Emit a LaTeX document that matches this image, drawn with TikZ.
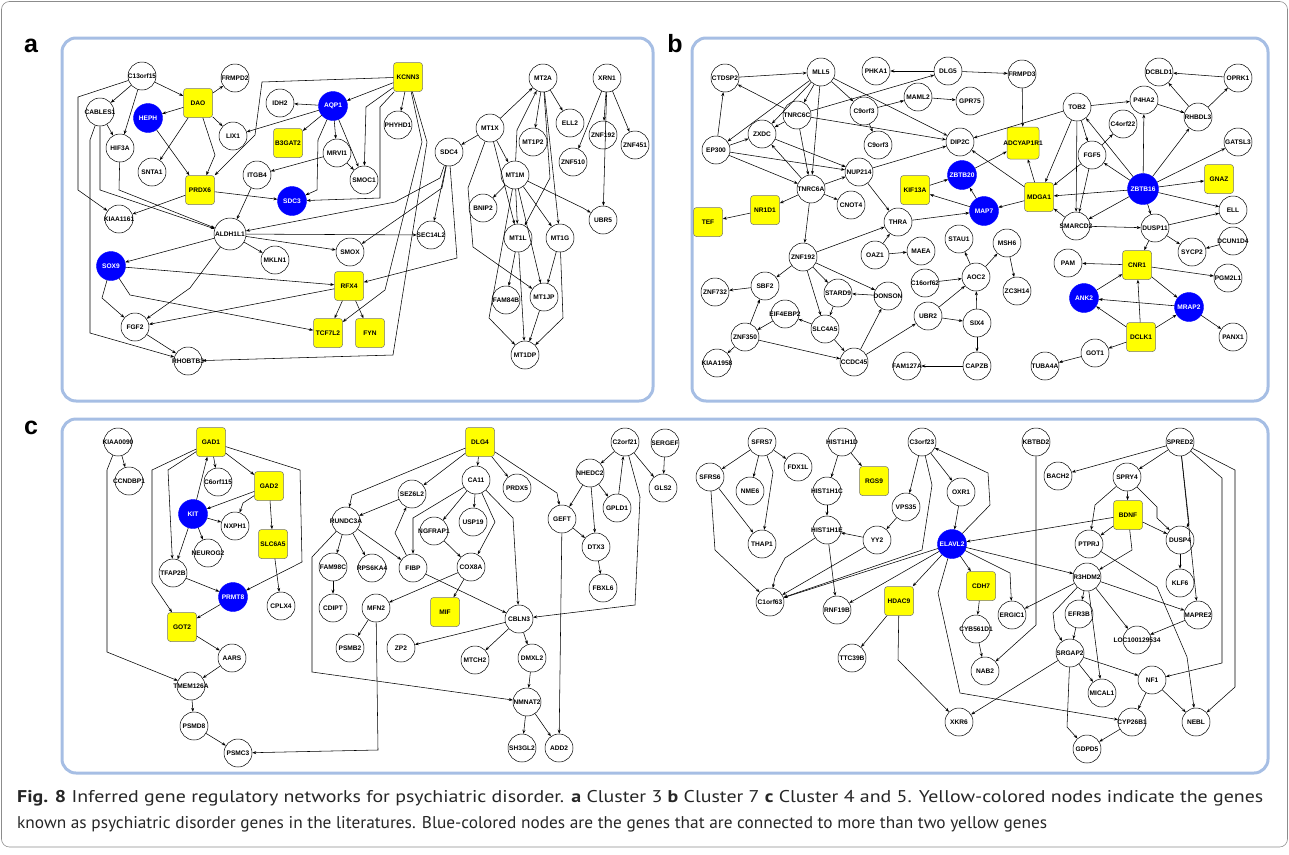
\documentclass[tikz,border=0pt]{standalone}
\usepackage{fontspec}
\setmainfont{Liberation Sans}
\newfontfamily\capfont{PT Sans}
\usepackage{graphicx}
\usetikzlibrary{arrows.meta}
\definecolor{panelblue}{RGB}{166,190,228}
\definecolor{genegold}{RGB}{255,255,0}
\definecolor{geneblue}{RGB}{0,0,255}
\newcommand{\gn}[1]{\makebox[0pt]{#1}}

\begin{document}
\begin{tikzpicture}[
      x=1pt, y=-1pt,
      >={Stealth[length=4pt,width=3pt]},
      every node/.style={inner sep=0pt,font=\fontsize{6.6}{7}\selectfont\bfseries},
      gene/.style={circle,draw,line width=0.5pt,fill=white,minimum size=28pt},
      ygene/.style={rectangle,rounded corners=3pt,draw=black!55,line width=0.5pt,fill=genegold,minimum size=29pt},
      bgene/.style={circle,draw=geneblue,fill=geneblue,text=white,minimum size=29pt},
      panel/.style={draw=panelblue,line width=3pt,rounded corners=14pt},
      tag/.style={font=\fontsize{25}{25}\selectfont\bfseries},
      link/.style={->,line width=0.55pt}
    ]
  \useasboundingbox (0,0) rectangle (1289,854);
  \draw[black!45,line width=0.6pt,rounded corners=8pt] (1.5,1.5) rectangle (1287.5,847);

  % panels and their tags
  \draw[panel] (62,38) rectangle (653,401);
  \draw[panel] (692,38) rectangle (1268,401);
  \draw[panel] (62,419) rectangle (1268,773);
  \node[tag] (tag-a) at (31,46) {a};
  \node[tag] (tag-b) at (675,44) {b};
  \node[tag] (tag-c) at (31,428) {c};

  % ---- a: Cluster 3
  \node[gene]  (a-c13orf15) at (142,76)  {\gn{C13orf15}};
  \node[gene]  (a-frmpd2)   at (235,78)  {\gn{FRMPD2}};
  \node[ygene] (a-dao)      at (198,103) {\gn{DAO}};
  \node[gene]  (a-cables1)  at (100,112) {\gn{CABLES1}};
  \node[bgene] (a-heph)     at (148,118) {\gn{HEPH}};
  \node[gene]  (a-lix1)     at (233,136) {\gn{LIX1}};
  \node[gene]  (a-hif3a)    at (120,148) {\gn{HIF3A}};
  \node[gene]  (a-snta1)    at (152,172) {\gn{SNTA1}};
  \node[ygene] (a-prdx6)    at (200,190) {\gn{PRDX6}};
  \node[gene]  (a-idh2)     at (280,103) {\gn{IDH2}};
  \node[bgene] (a-aqp1)     at (333,106) {\gn{AQP1}};
  \node[ygene] (a-b3gat2)   at (288,143) {\gn{B3GAT2}};
  \node[gene]  (a-mrvi1)    at (337,153) {\gn{MRVI1}};
  \node[gene]  (a-itgb4)    at (257,175) {\gn{ITGB4}};
  \node[bgene] (a-sdc3)     at (292,201) {\gn{SDC3}};
  \node[gene]  (a-kiaa1161) at (119,219) {\gn{KIAA1161}};
  \node[gene,minimum size=32pt] (a-aldh1l1) at (230,234) {\gn{ALDH1L1}};
  \node[gene]  (a-mkln1)    at (275,260) {\gn{MKLN1}};
  \node[gene]  (a-smox)     at (350,252) {\gn{SMOX}};
  \node[bgene] (a-sox9)     at (111,266) {\gn{SOX9}};
  \node[ygene] (a-rfx4)     at (349,286) {\gn{RFX4}};
  \node[gene]  (a-fgf2)     at (135,327) {\gn{FGF2}};
  \node[ygene] (a-tcf7l2)   at (328,333) {\gn{TCF7L2}};
  \node[ygene] (a-fyn)      at (370,333) {\gn{FYN}};
  \node[gene]  (a-rhobtb3)  at (188,361) {\gn{RHOBTB3}};
  \node[ygene] (a-kcnn3)    at (408,77)  {\gn{KCNN3}};
  \node[gene]  (a-phyhd1)   at (398,125) {\gn{PHYHD1}};
  \node[gene]  (a-smoc1)    at (364,180) {\gn{SMOC1}};
  \node[gene]  (a-sdc4)     at (449,152) {\gn{SDC4}};
  \node[gene]  (a-sec14l2)  at (431,235) {\gn{SEC14L2}};
  \node[gene]  (a-mt2a)     at (543,78)  {\gn{MT2A}};
  \node[gene]  (a-xrn1)     at (607,78)  {\gn{XRN1}};
  \node[gene]  (a-mt1x)     at (490,128) {\gn{MT1X}};
  \node[gene]  (a-mt1p2)    at (533,142) {\gn{MT1P2}};
  \node[gene]  (a-ell2)     at (570,123) {\gn{ELL2}};
  \node[gene]  (a-znf192)   at (603,135) {\gn{ZNF192}};
  \node[gene]  (a-znf451)   at (635,145) {\gn{ZNF451}};
  \node[gene]  (a-znf510)   at (573,162) {\gn{ZNF510}};
  \node[gene]  (a-mt1m)     at (515,175) {\gn{MT1M}};
  \node[gene]  (a-bnip2)    at (483,208) {\gn{BNIP2}};
  \node[gene]  (a-ubr5)     at (603,220) {\gn{UBR5}};
  \node[gene]  (a-mt1l)     at (518,238) {\gn{MT1L}};
  \node[gene]  (a-mt1g)     at (560,238) {\gn{MT1G}};
  \node[gene]  (a-fam84b)   at (506,300) {\gn{FAM84B}};
  \node[gene]  (a-mt1jp)    at (544,297) {\gn{MT1JP}};
  \node[gene]  (a-mt1dp)    at (525,355) {\gn{MT1DP}};

  \foreach \s/\t in {a-c13orf15/a-dao, a-c13orf15/a-cables1, a-c13orf15/a-hif3a,
      a-dao/a-frmpd2, a-dao/a-heph, a-dao/a-lix1, a-dao/a-snta1, a-heph/a-prdx6,
      a-cables1/a-hif3a, a-prdx6/a-kiaa1161, a-prdx6/a-sdc3, a-aqp1/a-lix1,
      a-aqp1/a-idh2, a-aqp1/a-b3gat2, a-aqp1/a-mrvi1, a-aqp1/a-smoc1, a-kcnn3/a-aqp1,
      a-kcnn3/a-phyhd1, a-mrvi1/a-itgb4, a-mrvi1/a-smoc1, a-itgb4/a-aldh1l1,
      a-aldh1l1/a-sec14l2, a-aldh1l1/a-smox, a-aldh1l1/a-mkln1, a-aldh1l1/a-sox9,
      a-sox9/a-rfx4, a-rfx4/a-fgf2, a-rfx4/a-tcf7l2, a-rfx4/a-fyn, a-fgf2/a-rhobtb3,
      a-sdc4/a-sec14l2, a-mt1x/a-sdc4, a-mt1x/a-mt2a, a-mt2a/a-mt1p2, a-mt2a/a-ell2,
      a-mt2a/a-mt1g, a-mt1x/a-mt1m, a-mt1x/a-mt1l, a-mt1m/a-bnip2, a-mt1m/a-mt1l,
      a-mt1m/a-mt1g, a-mt1m/a-mt1jp, a-mt1l/a-fam84b, a-mt1l/a-mt1dp, a-mt1g/a-mt1jp,
      a-mt1jp/a-mt1dp, a-xrn1/a-znf192, a-xrn1/a-znf451, a-xrn1/a-znf510, a-xrn1/a-ubr5}
    \draw[link] (\s) -- (\t);
  \draw[link] (a-c13orf15) -- (78,97) -- (78,190) -- (a-kiaa1161);
  \draw[link] (a-cables1) -- (100,190) -- (a-aldh1l1);
  \draw[link] (a-cables1) -- (90,140) -- (90,333) -- (a-rhobtb3);
  \draw[link] (a-hif3a) -- (119,190) -- (a-aldh1l1);
  \draw[link] (a-dao) -- (215,155) -- (a-prdx6);
  \draw[link] (a-kcnn3) -- (262,82) -- (255,135) -- (a-prdx6);
  \draw[link] (a-aqp1) -- (318,140) -- (317,190) -- (a-sdc3);
  \draw[link] (a-kcnn3) -- (366,107) -- (a-smoc1);
  \draw[link] (a-kcnn3) -- (380,107) -- (380,198) -- (a-sdc3);
  \draw[link] (a-kcnn3) -- (422,142) -- (385,290) -- (a-tcf7l2);
  \draw[link] (a-kcnn3) -- (427,142) -- (393,355) -- (a-rhobtb3);
  \draw[link] (a-sdc4) -- (440,178) -- (395,202) -- (a-aldh1l1);
  \draw[link] (a-sdc4) -- (442,188) -- (a-smox);
  \draw[link] (a-sdc4) -- (457,258) -- (a-rfx4);
  \draw[link] (a-aldh1l1) -- (190,288) -- (a-fgf2);
  \draw[link] (a-sox9) -- (102,298) -- (a-fgf2);
  \draw[link] (a-sox9) -- (130,295) -- (a-tcf7l2);
  \draw[link] (a-mt1m) -- (517,130) -- (a-mt2a);
  \draw[link] (a-mt2a) -- (550,178) -- (a-mt1l);
  \draw[link] (a-mt1x) -- (468,188) -- (473,247) -- (a-mt1jp);
  \draw[link] (a-mt1m) -- (489,318) -- (a-mt1dp);
  \draw[link] (a-mt1g) -- (563,318) -- (a-mt1dp);
  \draw[link] (a-mt1m) -- (583,208) -- (a-ubr5);

  % ---- b: Cluster 7
  \node[gene]  (b-ctdsp2)    at (725,78)  {\gn{CTDSP2}};
  \node[gene]  (b-mll5)      at (821,72)  {\gn{MLL5}};
  \node[gene]  (b-phka1)     at (876,71)  {\gn{PHKA1}};
  \node[gene]  (b-dlg5)      at (948,71)  {\gn{DLG5}};
  \node[gene]  (b-maml2)     at (918,97)  {\gn{MAML2}};
  \node[gene]  (b-gpr75)     at (970,101) {\gn{GPR75}};
  \node[gene]  (b-tnrc6c)    at (797,115) {\gn{TNRC6C}};
  \node[gene]  (b-c9orf3a)   at (864,111) {\gn{C9orf3}};
  \node[gene]  (b-zxdc)      at (762,134) {\gn{ZXDC}};
  \node[gene]  (b-c9orf3b)   at (878,145) {\gn{C9orf3}};
  \node[gene]  (b-dip2c)     at (960,142) {\gn{DIP2C}};
  \node[gene]  (b-ep300)     at (716,150) {\gn{EP300}};
  \node[gene]  (b-nup214)    at (859,172) {\gn{NUP214}};
  \node[gene]  (b-tnrc6a)    at (811,189) {\gn{TNRC6A}};
  \node[bgene] (b-zbtb20)    at (962,175) {\gn{ZBTB20}};
  \node[ygene] (b-kif13a)    at (915,190) {\gn{KIF13A}};
  \node[gene]  (b-cnot4)     at (851,205) {\gn{CNOT4}};
  \node[ygene] (b-nr1d1)     at (765,210) {\gn{NR1D1}};
  \node[ygene] (b-tef)       at (708,222) {\gn{TEF}};
  \node[gene]  (b-thra)      at (898,222) {\gn{THRA}};
  \node[bgene] (b-map7)      at (984,211) {\gn{MAP7}};
  \node[gene]  (b-znf192)    at (803,257) {\gn{ZNF192}};
  \node[gene]  (b-oaz1)      at (875,255) {\gn{OAZ1}};
  \node[gene]  (b-maea)      at (921,251) {\gn{MAEA}};
  \node[gene]  (b-stau1)     at (959,239) {\gn{STAU1}};
  \node[gene]  (b-aoc2)      at (976,277) {\gn{AOC2}};
  \node[gene]  (b-c16orf62)  at (925,283) {\gn{C16orf62}};
  \node[gene]  (b-sbf2)      at (765,286) {\gn{SBF2}};
  \node[gene]  (b-znf732)    at (715,292) {\gn{ZNF732}};
  \node[gene]  (b-stard9)    at (838,293) {\gn{STARD9}};
  \node[gene]  (b-donson)    at (888,296) {\gn{DONSON}};
  \node[gene]  (b-eif4ebp2)  at (785,314) {\gn{EIF4EBP2}};
  \node[gene]  (b-slc4a5)    at (825,329) {\gn{SLC4A5}};
  \node[gene]  (b-ubr2)      at (928,316) {\gn{UBR2}};
  \node[gene]  (b-six4)      at (977,323) {\gn{SIX4}};
  \node[gene]  (b-znf350)    at (745,337) {\gn{ZNF350}};
  \node[gene]  (b-kiaa1958)  at (717,363) {\gn{KIAA1958}};
  \node[gene]  (b-ccdc45)    at (854,362) {\gn{CCDC45}};
  \node[gene]  (b-fam127a)   at (907,366) {\gn{FAM127A}};
  \node[gene]  (b-capzb)     at (977,366) {\gn{CAPZB}};
  \node[gene]  (b-frmpd3)    at (1022,74) {\gn{FRMPD3}};
  \node[ygene,minimum size=32pt] (b-adcyap1r1) at (1023,143) {\gn{ADCYAP1R1}};
  \node[gene]  (b-tob2)      at (1077,107) {\gn{TOB2}};
  \node[gene]  (b-fgf5)      at (1092,155) {\gn{FGF5}};
  \node[ygene] (b-mdga1)     at (1039,197) {\gn{MDGA1}};
  \node[gene]  (b-smarcd2)   at (1076,226) {\gn{SMARCD2}};
  \node[gene]  (b-msh6)      at (1007,243) {\gn{MSH6}};
  \node[gene]  (b-zc3h14)    at (1017,291) {\gn{ZC3H14}};
  \node[gene]  (b-pam)       at (1068,263) {\gn{PAM}};
  \node[bgene] (b-ank2)      at (1084,298) {\gn{ANK2}};
  \node[gene]  (b-got1)      at (1095,353) {\gn{GOT1}};
  \node[gene]  (b-tuba4a)    at (1045,366) {\gn{TUBA4A}};
  \node[gene]  (b-dcbld1)    at (1159,72)  {\gn{DCBLD1}};
  \node[gene]  (b-oprk1)     at (1238,78)  {\gn{OPRK1}};
  \node[gene]  (b-p4ha2)     at (1144,100) {\gn{P4HA2}};
  \node[gene]  (b-rhbdl3)    at (1198,117) {\gn{RHBDL3}};
  \node[gene]  (b-c4orf22)   at (1123,124) {\gn{C4orf22}};
  \node[gene]  (b-gatsl3)    at (1238,142) {\gn{GATSL3}};
  \node[bgene,minimum size=31pt] (b-zbtb16) at (1143,189) {\gn{ZBTB16}};
  \node[ygene] (b-gnaz)      at (1219,179) {\gn{GNAZ}};
  \node[gene]  (b-ell)       at (1233,210) {\gn{ELL}};
  \node[gene]  (b-dusp11)    at (1155,228) {\gn{DUSP11}};
  \node[gene]  (b-sycp2)     at (1192,252) {\gn{SYCP2}};
  \node[gene]  (b-dcun1d4)   at (1233,241) {\gn{DCUN1D4}};
  \node[ygene] (b-cnr1)      at (1137,265) {\gn{CNR1}};
  \node[gene]  (b-pgm2l1)    at (1228,278) {\gn{PGM2L1}};
  \node[bgene] (b-mrap2)     at (1189,307) {\gn{MRAP2}};
  \node[ygene] (b-dclk1)     at (1141,337) {\gn{DCLK1}};
  \node[gene]  (b-panx1)     at (1233,337) {\gn{PANX1}};

  \foreach \s/\t in {b-ctdsp2/b-mll5, b-tnrc6c/b-ctdsp2, b-ep300/b-ctdsp2, b-mll5/b-ep300,
      b-mll5/b-zxdc, b-mll5/b-tnrc6c, b-mll5/b-tnrc6a, b-mll5/b-c9orf3a, b-mll5/b-dip2c,
      b-tnrc6c/b-dlg5, b-dlg5/b-phka1, b-dlg5/b-frmpd3, b-c9orf3a/b-maml2, b-maml2/b-gpr75,
      b-c9orf3a/b-c9orf3b, b-tnrc6c/b-dip2c, b-tnrc6c/b-zxdc, b-tnrc6c/b-tnrc6a,
      b-ep300/b-zxdc, b-ep300/b-tnrc6a, b-ep300/b-nup214, b-zxdc/b-nup214, b-tnrc6a/b-zxdc,
      b-tnrc6a/b-nup214, b-tnrc6a/b-cnot4, b-tnrc6a/b-nr1d1, b-nr1d1/b-tef,
      b-tnrc6a/b-znf192, b-nup214/b-dip2c, b-nup214/b-thra, b-thra/b-map7, b-znf192/b-thra,
      b-oaz1/b-thra, b-oaz1/b-maea, b-znf192/b-sbf2, b-znf192/b-stard9, b-znf192/b-slc4a5,
      b-znf192/b-donson, b-sbf2/b-znf732, b-donson/b-stard9, b-stard9/b-slc4a5,
      b-slc4a5/b-eif4ebp2, b-eif4ebp2/b-znf350, b-znf350/b-sbf2, b-znf350/b-kiaa1958,
      b-znf350/b-ccdc45, b-slc4a5/b-ccdc45, b-ccdc45/b-donson, b-ccdc45/b-ubr2,
      b-ubr2/b-six4, b-ubr2/b-aoc2, b-c16orf62/b-aoc2, b-six4/b-aoc2, b-aoc2/b-stau1,
      b-aoc2/b-msh6, b-msh6/b-zc3h14, b-six4/b-capzb, b-capzb/b-fam127a,
      b-kif13a/b-zbtb20, b-map7/b-kif13a, b-map7/b-zbtb20, b-zbtb20/b-adcyap1r1,
      b-tob2/b-dip2c, b-mdga1/b-dip2c, b-frmpd3/b-adcyap1r1, b-mdga1/b-adcyap1r1,
      b-mdga1/b-map7, b-zbtb16/b-mdga1, b-tob2/b-mdga1, b-tob2/b-smarcd2, b-tob2/b-fgf5,
      b-tob2/b-p4ha2, b-zbtb16/b-tob2, b-fgf5/b-c4orf22, b-fgf5/b-mdga1, b-fgf5/b-smarcd2,
      b-zbtb16/b-fgf5, b-zbtb16/b-p4ha2, b-zbtb16/b-rhbdl3, b-zbtb16/b-gatsl3,
      b-zbtb16/b-gnaz, b-zbtb16/b-ell, b-zbtb16/b-smarcd2, b-zbtb16/b-dusp11,
      b-smarcd2/b-mdga1, b-smarcd2/b-dusp11, b-p4ha2/b-rhbdl3, b-rhbdl3/b-dcbld1,
      b-rhbdl3/b-oprk1, b-oprk1/b-dcbld1, b-dusp11/b-ell, b-dusp11/b-sycp2,
      b-dcun1d4/b-sycp2, b-dusp11/b-cnr1, b-cnr1/b-pam, b-cnr1/b-pgm2l1, b-cnr1/b-mrap2,
      b-ank2/b-cnr1, b-dclk1/b-cnr1, b-mrap2/b-ank2, b-dclk1/b-ank2, b-dclk1/b-mrap2,
      b-mrap2/b-panx1, b-dclk1/b-got1, b-got1/b-tuba4a}
    \draw[link] (\s) -- (\t);

  % ---- c: Cluster 4 and 5
  \node[gene]  (c-kiaa0090) at (118,442) {\gn{KIAA0090}};
  \node[gene]  (c-ccndbp1)  at (129,481) {\gn{CCNDBP1}};
  \node[ygene] (c-gad1)     at (211,442) {\gn{GAD1}};
  \node[gene]  (c-c6orf115) at (218,482) {\gn{C6orf115}};
  \node[ygene] (c-gad2)     at (269,486) {\gn{GAD2}};
  \node[bgene] (c-kit)      at (193,514) {\gn{KIT}};
  \node[gene]  (c-nxph1)    at (235,526) {\gn{NXPH1}};
  \node[gene]  (c-neurog2)  at (208,553) {\gn{NEUROG2}};
  \node[ygene] (c-slc6a5)   at (273,544) {\gn{SLC6A5}};
  \node[gene]  (c-tfap2b)   at (173,573) {\gn{TFAP2B}};
  \node[bgene] (c-prmt8)    at (233,597) {\gn{PRMT8}};
  \node[gene]  (c-cplx4)    at (281,606) {\gn{CPLX4}};
  \node[ygene] (c-got2)     at (182,627) {\gn{GOT2}};
  \node[gene]  (c-aars)     at (232,658) {\gn{AARS}};
  \node[gene]  (c-tmem126a) at (191,686) {\gn{TMEM126A}};
  \node[gene]  (c-psmd8)    at (194,726) {\gn{PSMD8}};
  \node[gene]  (c-psmc3)    at (238,753) {\gn{PSMC3}};
  \node[ygene] (c-dlg4)     at (480,442) {\gn{DLG4}};
  \node[gene]  (c-c2orf21)  at (625,442) {\gn{C2orf21}};
  \node[gene]  (c-sergef)   at (665,443) {\gn{SERGEF}};
  \node[gene]  (c-ca11)     at (476,480) {\gn{CA11}};
  \node[gene]  (c-nhedc2)   at (590,473) {\gn{NHEDC2}};
  \node[gene]  (c-prdx5)    at (517,488) {\gn{PRDX5}};
  \node[gene]  (c-gls2)     at (663,488) {\gn{GLS2}};
  \node[gene]  (c-sez6l2)   at (412,494) {\gn{SEZ6L2}};
  \node[gene]  (c-gpld1)    at (617,508) {\gn{GPLD1}};
  \node[gene]  (c-usp19)    at (473,522) {\gn{USP19}};
  \node[gene]  (c-geft)     at (562,519) {\gn{GEFT}};
  \node[gene]  (c-rundc3a)  at (346,521) {\gn{RUNDC3A}};
  \node[gene]  (c-ngfrap1)  at (434,531) {\gn{NGFRAP1}};
  \node[gene]  (c-dtx3)     at (596,547) {\gn{DTX3}};
  \node[gene]  (c-fam98c)   at (333,567) {\gn{FAM98C}};
  \node[gene]  (c-rps6ka4)  at (372,568) {\gn{RPS6KA4}};
  \node[gene]  (c-fibp)     at (413,568) {\gn{FIBP}};
  \node[gene]  (c-cox8a)    at (471,567) {\gn{COX8A}};
  \node[gene]  (c-fbxl6)    at (603,588) {\gn{FBXL6}};
  \node[gene]  (c-cdipt)    at (333,608) {\gn{CDIPT}};
  \node[gene]  (c-mfn2)     at (376,608) {\gn{MFN2}};
  \node[ygene] (c-mif)      at (445,612) {\gn{MIF}};
  \node[gene]  (c-cbln3)    at (519,619) {\gn{CBLN3}};
  \node[gene]  (c-psmb2)    at (350,648) {\gn{PSMB2}};
  \node[gene]  (c-zp2)      at (401,648) {\gn{ZP2}};
  \node[gene]  (c-mtch2)    at (475,660) {\gn{MTCH2}};
  \node[gene]  (c-dmxl2)    at (532,658) {\gn{DMXL2}};
  \node[gene]  (c-nmnat2)   at (527,702) {\gn{NMNAT2}};
  \node[gene]  (c-sh3gl2)   at (522,748) {\gn{SH3GL2}};
  \node[gene]  (c-add2)     at (559,748) {\gn{ADD2}};
  \node[gene]  (c-sfrs7)    at (762,442) {\gn{SFRS7}};
  \node[gene]  (c-fdx1l)    at (798,467) {\gn{FDX1L}};
  \node[gene]  (c-sfrs6)    at (710,477) {\gn{SFRS6}};
  \node[gene]  (c-nme6)     at (750,491) {\gn{NME6}};
  \node[gene]  (c-hist1h1d) at (842,442) {\gn{HIST1H1D}};
  \node[ygene] (c-rgs9)     at (874,481) {\gn{RGS9}};
  \node[gene]  (c-hist1h1c) at (827,491) {\gn{HIST1H1C}};
  \node[gene]  (c-c3orf23)  at (922,442) {\gn{C3orf23}};
  \node[gene]  (c-vps35)    at (906,507) {\gn{VPS35}};
  \node[gene]  (c-hist1h1e) at (827,530) {\gn{HIST1H1E}};
  \node[gene]  (c-yy2)      at (877,540) {\gn{YY2}};
  \node[gene]  (c-thap1)    at (762,544) {\gn{THAP1}};
  \node[gene]  (c-c1orf63)  at (770,602) {\gn{C1orf63}};
  \node[gene]  (c-rnf19b)   at (837,610) {\gn{RNF19B}};
  \node[ygene] (c-hdac9)    at (899,601) {\gn{HDAC9}};
  \node[gene]  (c-ttc39b)   at (852,658) {\gn{TTC39B}};
  \node[bgene] (c-elavl2)   at (952,544) {\gn{ELAVL2}};
  \node[gene]  (c-oxr1)     at (961,492) {\gn{OXR1}};
  \node[gene]  (c-xkr6)     at (959,722) {\gn{XKR6}};
  \node[gene]  (c-kbtbd2)   at (1036,442) {\gn{KBTBD2}};
  \node[gene]  (c-bach2)    at (1058,476) {\gn{BACH2}};
  \node[ygene] (c-cdh7)     at (981,586) {\gn{CDH7}};
  \node[gene]  (c-ergic1)   at (1012,615) {\gn{ERGIC1}};
  \node[gene]  (c-cyb561d1) at (976,629) {\gn{CYB561D1}};
  \node[gene]  (c-nab2)     at (985,671) {\gn{NAB2}};
  \node[gene]  (c-spred2)   at (1180,442) {\gn{SPRED2}};
  \node[gene]  (c-spry4)    at (1127,477) {\gn{SPRY4}};
  \node[ygene] (c-bdnf)     at (1128,515) {\gn{BDNF}};
  \node[gene]  (c-ptprj)    at (1089,544) {\gn{PTPRJ}};
  \node[gene]  (c-dusp4)    at (1180,540) {\gn{DUSP4}};
  \node[gene]  (c-r3hdm2)   at (1087,577) {\gn{R3HDM2}};
  \node[gene]  (c-klf6)     at (1180,583) {\gn{KLF6}};
  \node[gene]  (c-efr3b)    at (1079,614) {\gn{EFR3B}};
  \node[gene]  (c-mapre2)   at (1198,615) {\gn{MAPRE2}};
  \node[gene]  (c-loc)      at (1137,640) {\gn{LOC100129534}};
  \node[gene]  (c-srgap2)   at (1070,653) {\gn{SRGAP2}};
  \node[gene]  (c-nf1)      at (1152,680) {\gn{NF1}};
  \node[gene]  (c-mical1)   at (1102,693) {\gn{MICAL1}};
  \node[gene]  (c-cyp26b1)  at (1132,722) {\gn{CYP26B1}};
  \node[gene]  (c-nebl)     at (1196,722) {\gn{NEBL}};
  \node[gene]  (c-gdpd5)    at (1087,749) {\gn{GDPD5}};

  \foreach \s/\t in {c-kiaa0090/c-ccndbp1, c-kit/c-gad1, c-gad1/c-c6orf115, c-gad1/c-gad2,
      c-gad2/c-kit, c-gad2/c-slc6a5, c-kit/c-nxph1, c-kit/c-neurog2, c-kit/c-tfap2b,
      c-tfap2b/c-prmt8, c-prmt8/c-got2, c-slc6a5/c-cplx4, c-got2/c-aars,
      c-aars/c-tmem126a, c-tmem126a/c-psmd8, c-psmd8/c-psmc3, c-dlg4/c-sez6l2,
      c-dlg4/c-ca11, c-dlg4/c-prdx5, c-sez6l2/c-rundc3a, c-ca11/c-ngfrap1, c-ca11/c-usp19,
      c-ngfrap1/c-cox8a, c-rundc3a/c-fam98c, c-rundc3a/c-rps6ka4, c-rundc3a/c-fibp,
      c-fam98c/c-cdipt, c-cox8a/c-mfn2, c-cox8a/c-mif, c-fibp/c-cbln3, c-mfn2/c-psmb2,
      c-cbln3/c-zp2, c-cbln3/c-mtch2, c-cbln3/c-dmxl2, c-dmxl2/c-nmnat2,
      c-nmnat2/c-sh3gl2, c-nmnat2/c-add2, c-geft/c-add2, c-geft/c-dtx3, c-nhedc2/c-geft,
      c-nhedc2/c-dtx3, c-nhedc2/c-gpld1, c-c2orf21/c-nhedc2, c-gpld1/c-c2orf21,
      c-c2orf21/c-gls2, c-dtx3/c-fbxl6, c-sergef/c-gls2, c-sfrs7/c-sfrs6, c-sfrs7/c-nme6,
      c-sfrs7/c-fdx1l, c-sfrs6/c-thap1, c-hist1h1d/c-hist1h1c, c-hist1h1d/c-rgs9,
      c-hist1h1c/c-hist1h1e, c-yy2/c-hist1h1e, c-hist1h1e/c-rnf19b, c-yy2/c-c1orf63,
      c-vps35/c-yy2, c-c3orf23/c-vps35, c-elavl2/c-c1orf63, c-elavl2/c-rnf19b,
      c-elavl2/c-hdac9, c-hdac9/c-ttc39b, c-c3orf23/c-oxr1, c-oxr1/c-elavl2,
      c-bdnf/c-elavl2, c-elavl2/c-cdh7, c-elavl2/c-r3hdm2, c-cdh7/c-cyb561d1,
      c-cyb561d1/c-nab2, c-spred2/c-bach2, c-spred2/c-spry4, c-spred2/c-mapre2,
      c-spry4/c-bdnf, c-bdnf/c-ptprj, c-bdnf/c-dusp4, c-dusp4/c-klf6, c-r3hdm2/c-ergic1,
      c-r3hdm2/c-efr3b, c-r3hdm2/c-mical1, c-r3hdm2/c-loc, c-r3hdm2/c-mapre2,
      c-efr3b/c-srgap2, c-mapre2/c-loc, c-srgap2/c-mical1, c-srgap2/c-nf1,
      c-srgap2/c-xkr6, c-nf1/c-cyp26b1, c-nf1/c-nebl, c-cyp26b1/c-gdpd5}
    \draw[link] (\s) -- (\t);
  \draw[link] (c-kiaa0090) -- (107,470) -- (107,652) -- (c-tmem126a);
  \draw[link] (c-gad1) -- (168,470) -- (c-tfap2b);
  \draw[link] (c-gad1) -- (152,470) -- (152,583) -- (c-got2);
  \draw[link] (c-gad1) -- (300,470) -- (302,562) -- (c-prmt8);
  \draw[link] (c-gad2) -- (243,503) -- (c-nxph1);
  \draw[link] (c-mfn2) -- (378,750) -- (c-psmc3);
  \draw[link] (c-dlg4) -- (352,495) -- (c-rundc3a);
  \draw[link] (c-dlg4) -- (557,493) -- (c-geft);
  \draw[link] (c-fibp) -- (395,533) -- (c-sez6l2);
  \draw[link] (c-ca11) -- (413,518) -- (c-fibp);
  \draw[link] (c-ca11) -- (495,522) -- (c-cox8a);
  \draw[link] (c-ca11) -- (513,518) -- (c-cbln3);
  \draw[link] (c-rundc3a) -- (312,557) -- (312,672) -- (c-nmnat2);
  \draw[link] (c-c2orf21) -- (640,497) -- (635,605) -- (c-cbln3);
  \draw[link] (c-sfrs7) -- (773,472) -- (c-thap1);
  \draw[link] (c-sfrs6) -- (715,550) -- (c-c1orf63);
  \draw[link] (c-hist1h1e) -- (785,558) -- (775,577) -- (c-c1orf63);
  \draw[link] (c-c3orf23) -- (932,485) -- (922,550) -- (c-c1orf63);
  \draw[link] (c-hdac9) -- (898,660) -- (c-xkr6);
  \draw[link] (c-elavl2) -- (938,593) -- (960,693) -- (c-cyp26b1);
  \draw[link] (c-elavl2) -- (990,505) -- (988,473) -- (c-c3orf23);
  \draw[link] (c-elavl2) -- (1010,573) -- (c-ergic1);
  \draw[link] (c-kbtbd2) -- (1036,625) -- (c-nab2);
  \draw[link] (c-spred2) -- (1189,523) -- (c-dusp4);
  \draw[link] (c-spred2) -- (1222,478) -- (1222,663) -- (c-nf1);
  \draw[link] (c-spred2) -- (1235,470) -- (1235,687) -- (c-nebl);
  \draw[link] (c-spry4) -- (1095,505) -- (c-ptprj);
  \draw[link] (c-spry4) -- (1157,507) -- (1157,518) -- (c-dusp4);
  \draw[link] (c-bdnf) -- (1132,550) -- (c-r3hdm2);
  \draw[link] (c-ptprj) -- (1157,587) -- (1187,657) -- (c-nebl);
  \draw[link] (c-r3hdm2) -- (1053,613) -- (1055,630) -- (c-srgap2);
  \draw[link] (c-srgap2) -- (1067,727) -- (c-gdpd5);

  % caption
  \node[anchor=west,font=\capfont\fontsize{17}{20}\selectfont,text=black!85] (cap1) at (17,798)
    {\resizebox{1246pt}{\height}{\textbf{Fig. 8} Inferred gene regulatory networks for psychiatric disorder. \textbf{a} Cluster 3 \textbf{b} Cluster 7 \textbf{c} Cluster 4 and 5. Yellow-colored nodes indicate the genes}};
  \node[anchor=west,font=\capfont\fontsize{17}{20}\selectfont,text=black!85] (cap2) at (17,824)
    {\resizebox{1030pt}{\height}{known as psychiatric disorder genes in the literatures. Blue-colored nodes are the genes that are connected to more than two yellow genes}};
\end{tikzpicture}
\end{document}
